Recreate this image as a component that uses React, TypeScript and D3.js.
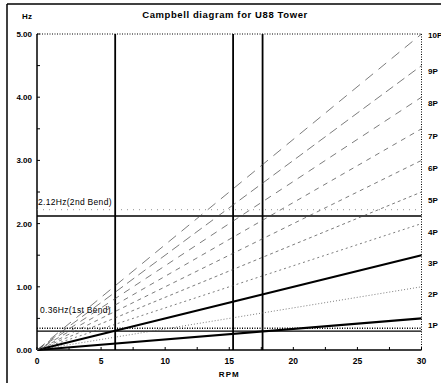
import * as d3 from "d3";

// harmonic orders (nP) and their frequency at the top rpm
const harmonics = [1, 2, 3, 4, 5, 6, 7, 8, 9, 10];
const harmonicLabels = ["1P", "2P", "3P", "4P", "5P", "6P", "7P", "8P", "9P", "10P"];
// label positions as read on the right margin (Hz)
const labelHz = [0.4, 0.89, 1.38, 1.86, 2.37, 2.88, 3.39, 3.91, 4.42, 4.98];
const rpmTicks = [0, 5, 10, 15, 20, 25, 30];
const hzTicks = [0, 1, 2, 3, 4, 5];
const rpmMarks = [6.1, 15.3, 17.6];
const bendFreqs = [2.12, 0.3];
const bendMargins = [2.22, 0.345];
const bendLabels = ["2.12Hz(2nd Bend)", "0.36Hz(1st Bend)"];
const bendLabelHz = [2.3, 0.58];

const dashes: Record<number, string | undefined> = {
  1: undefined,
  2: "1 2",
  3: undefined,
  4: "2 3",
  5: "3 3",
  6: "4 4",
  7: "5 5",
  8: "7 6",
  9: "9 5",
  10: "10 7",
};

const App = () => {
  const W = 441;
  const H = 383;
  const x = d3.scaleLinear().domain([0, 30]).range([37, 421.5]);
  const y = d3.scaleLinear().domain([0, 5]).range([350, 34]);
  const line = d3
    .line<[number, number]>()
    .x((d) => x(d[0]))
    .y((d) => y(d[1]));
  const font = "'Liberation Sans', Arial, sans-serif";
  const minorY = d3.range(0, 5.01, 0.5);
  const minorX = d3.range(0, 30.01, 2.5);

  return (
    <svg
      width={W}
      height={H}
      style={{ position: "absolute", left: 0, top: 0, background: "#fff" }}
      fontFamily={font}
    >
      {/* outer frame */}
      <line x1={7} y1={4} x2={441} y2={4} stroke="#000" strokeWidth={1.5} />
      <line x1={7} y1={4} x2={7} y2={383} stroke="#000" strokeWidth={1.5} />

      <text x={225} y={18} textAnchor="middle" fontSize={9.5} fontWeight="bold" letterSpacing={0.6}>
        Campbell diagram for U88 Tower
      </text>
      <text x={27} y={19} textAnchor="middle" fontSize={8} fontWeight="bold">
        Hz
      </text>

      {/* plot frame */}
      <line x1={x(0)} y1={y(5)} x2={x(30)} y2={y(5)} stroke="#000" strokeDasharray="1 1.5" />
      <line x1={x(30)} y1={y(5)} x2={x(30)} y2={y(0)} stroke="#000" strokeDasharray="1 1.5" />
      <line x1={x(0)} y1={y(0)} x2={x(30)} y2={y(0)} stroke="#000" strokeWidth={1.5} />
      <line x1={x(0)} y1={y(0)} x2={x(0)} y2={y(5)} stroke="#000" strokeWidth={1.5} />

      {minorY.map((v) => (
        <line key={"my" + v} x1={x(0)} x2={x(0) + 3} y1={y(v)} y2={y(v)} stroke="#000" />
      ))}
      {minorX.map((v) => (
        <line key={"mx" + v} x1={x(v)} x2={x(v)} y1={y(0)} y2={y(0) - 3} stroke="#000" />
      ))}

      {hzTicks.map((t) => (
        <text key={"hz" + t} x={32} y={y(t) + 3} textAnchor="end" fontSize={8} fontWeight="bold">
          {t.toFixed(2)}
        </text>
      ))}
      {rpmTicks.map((t) => (
        <text key={"rpm" + t} x={x(t)} y={364} textAnchor="middle" fontSize={8.5} fontWeight="bold">
          {t}
        </text>
      ))}
      <text x={x(15)} y={377} textAnchor="middle" fontSize={8} fontWeight="bold" letterSpacing={1}>
        RPM
      </text>

      {/* bend frequency lines */}
      {bendMargins.map((f, i) => (
        <line
          key={"bm" + i}
          x1={x(0)}
          x2={x(30)}
          y1={y(f)}
          y2={y(f)}
          stroke={i === 1 ? "#000" : "#777"}
          strokeWidth={i === 1 ? 1.6 : 0.8}
          strokeDasharray={i === 1 ? "1 1.5" : "1 5"}
        />
      ))}
      {bendFreqs.map((f, i) => (
        <line key={"bf" + i} x1={x(0)} x2={x(30)} y1={y(f)} y2={y(f)} stroke="#000" strokeWidth={1.3} />
      ))}
      {bendLabels.map((l, i) => (
        <text key={"bl" + i} x={x(0) + (i === 1 ? 3 : 1)} y={y(bendLabelHz[i])} fontSize={8.5} letterSpacing={0.3}>
          {l}
        </text>
      ))}

      {/* rpm range marks */}
      {rpmMarks.map((r) => (
        <line key={"rm" + r} x1={x(r)} x2={x(r)} y1={y(5)} y2={y(0)} stroke="#000" strokeWidth={1.8} />
      ))}

      {/* harmonic excitation lines */}
      {harmonics.map((n) => {
        const thick = n === 1 || n === 3;
        return (
          <path
            key={"h" + n}
            d={line([
              [0, 0],
              [30, (n * 30) / 60],
            ]) as string}
            fill="none"
            stroke={thick ? "#000" : "#444"}
            strokeWidth={thick ? 2.2 : 0.7}
            strokeDasharray={dashes[n]}
          />
        );
      })}
      {harmonics.map((n, i) => (
        <text key={"hl" + n} x={428} y={y(labelHz[i]) + 3} fontSize={8} fontWeight="bold">
          {harmonicLabels[i]}
        </text>
      ))}
    </svg>
  );
};

export default App;
